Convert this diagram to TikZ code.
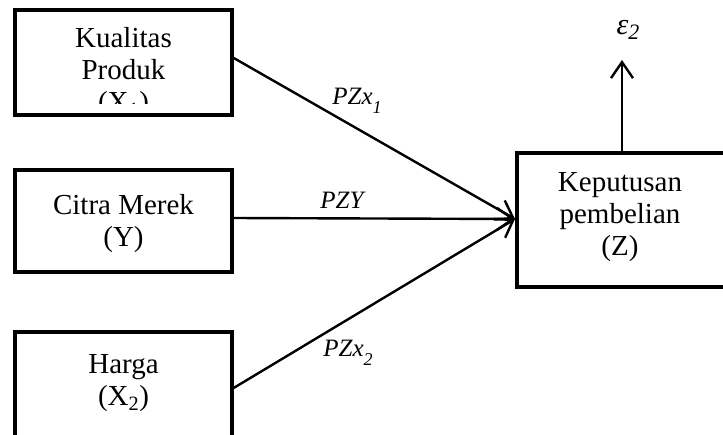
\documentclass[tikz,border=0pt]{standalone}
\usepackage{fontspec}
\setmainfont{Liberation Serif}
\usetikzlibrary{arrows.meta}
\tikzset{
  boxnode/.style={draw, line width=4pt, minimum width=217pt, inner sep=0pt},
  boxtext/.style={align=center, font=\fontsize{29}{32}\selectfont, inner sep=0pt},
  conn/.style={line width=2.4pt, -{Straight Barb[length=16pt,width=22pt,line width=2.4pt]}},
  lbl/.style={font=\fontsize{25}{28}\selectfont\itshape, inner sep=0pt}
}
\newcommand{\mysub}[1]{\raisebox{-0.35em}{\fontsize{18}{20}\selectfont #1}}
\begin{document}
\begin{tikzpicture}[x=1pt,y=-1pt]
\useasboundingbox (0,0) rectangle (723,435);
% boxes
\node[boxnode, minimum height=105pt] (b1) at (123.5,62.5) {};
\node[boxnode, minimum height=102pt] (b2) at (123.5,221) {};
\node[boxnode, minimum height=128pt] (b3) at (123.5,396) {};
\node[boxnode, minimum width=213pt, minimum height=134pt] (bz) at (623.5,220) {};
% texts
\begin{scope}
\clip (17,12) rectangle (230,104);
\node[boxtext] (t1) at (123.5,73) {Kualitas\\Produk\\(X\textsubscript{1})};
\end{scope}
\node[boxtext] (t2) at (123.5,224) {Citra Merek\\(Y)};
\node[boxtext] (t3) at (123.5,383) {Harga\\(X\textsubscript{2})};
\node[boxtext] (tz) at (620,217) {Keputusan\\pembelian\\(Z)};
% connectors
\coordinate (s1) at (232,57);
\coordinate (s2) at (232,218);
\coordinate (s3) at (232,389);
\coordinate (zin) at (515,219);
\coordinate (eps) at (622,60);
\draw[conn] (s1) -- (zin);
\draw[conn] (s2) -- (zin);
\draw[conn] (s3) -- (zin);
\draw[conn] (bz.north -| eps) -- (eps);
% labels
\node[lbl] (l1) at (357,101) {PZx\mysub{1}};
\node[lbl] (l2) at (342,200) {PZY};
\node[lbl] (l3) at (348,353) {PZx\mysub{2}};
\node[lbl, font=\fontsize{30}{32}\selectfont\itshape] (le) at (628,30) {ε\raisebox{-0.15em}{\fontsize{22}{24}\selectfont 2}};
\end{tikzpicture}
\end{document}
